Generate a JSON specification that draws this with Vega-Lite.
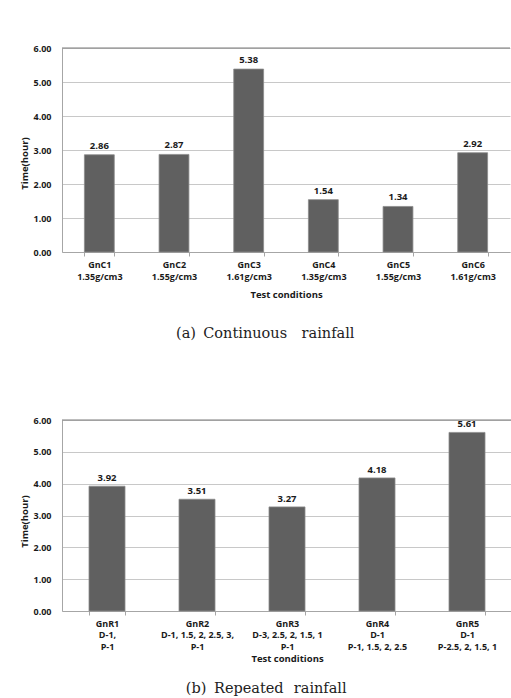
{
  "$schema": "https://vega.github.io/schema/vega-lite/v6.json",
  "padding": {"top": 44, "left": 19, "right": 0, "bottom": 0},
  "background": "white",
  "spacing": 75,
  "config": {
    "font": "Open Sans",
    "view": {"stroke": null},
    "axis": {
      "labelFont": "Open Sans", "labelFontWeight": "bold", "labelFontSize": 9, "labelColor": "#1a1a1a",
      "titleFont": "Open Sans", "titleFontWeight": "bold", "titleFontSize": 9.5, "titleColor": "#1a1a1a",
      "domainColor": "#a6a6a6", "tickColor": "#a6a6a6", "gridColor": "#c8c8c8", "gridWidth": 1
    },
    "axisY": {"labelOverlap": false, "tickCount": 7, "values": [0, 1, 2, 3, 4, 5, 6]},
    "title": {"font": "DejaVu Serif", "fontSize": 14.5, "fontWeight": "normal", "color": "#222222"}
  },
  "datasets": {
    "cont": [
      {"cond": "GnC1|1.35g/cm3", "time": 2.86},
      {"cond": "GnC2|1.55g/cm3", "time": 2.87},
      {"cond": "GnC3|1.61g/cm3", "time": 5.38},
      {"cond": "GnC4|1.35g/cm3", "time": 1.54},
      {"cond": "GnC5|1.55g/cm3", "time": 1.34},
      {"cond": "GnC6|1.61g/cm3", "time": 2.92}
    ],
    "rep": [
      {"cond": "GnR1|D-1,|P-1", "time": 3.92},
      {"cond": "GnR2|D-1, 1.5, 2, 2.5, 3,|P-1", "time": 3.51},
      {"cond": "GnR3|D-3, 2.5, 2, 1.5, 1|P-1", "time": 3.27},
      {"cond": "GnR4|D-1|P-1, 1.5, 2, 2.5", "time": 4.18},
      {"cond": "GnR5|D-1|P-2.5, 2, 1.5, 1", "time": 5.61}
    ]
  },
  "vconcat": [
    {
      "width": 448, "height": 204,
      "data": {"name": "cont"},
      "title": {"text": "(a)\u2002Continuous\u2003rainfall", "orient": "bottom", "offset": 28, "frame": "bounds", "anchor": "middle", "dx": 0},
      "layer": [
        {
          "mark": {"type": "bar", "color": "#606060", "stroke": "#8c8c8c", "strokeWidth": 0.8},
          "encoding": {
            "x": {"field": "cond", "type": "nominal", "sort": null,
              "scale": {"paddingInner": 0.6, "paddingOuter": 0.3},
              "axis": {"labelAngle": 0, "labelExpr": "split(datum.label, '|')", "labelLineHeight": 12.5, "labelPadding": 4,
                "ticks": true, "tickBand": "extent", "tickSize": 4, "title": "Test conditions", "titlePadding": 8, "grid": false}},
            "y": {"field": "time", "type": "quantitative", "scale": {"domain": [0, 6], "nice": false},
              "axis": {"values": [0, 1, 2, 3, 4, 5, 6], "tickCount": 7, "format": ".2f", "grid": true, "ticks": false, "labelPadding": 11, "labelOverlap": false,
                "title": "Time(hour)", "titleY": 115, "titlePadding": 3}}
          }
        },
        {
          "mark": {"type": "text", "baseline": "bottom", "dy": -4, "fontWeight": "bold", "fontSize": 9.5, "font": "Open Sans", "color": "#1a1a1a"},
          "encoding": {
            "x": {"field": "cond", "type": "nominal", "sort": null},
            "y": {"field": "time", "type": "quantitative"},
            "text": {"field": "time", "type": "quantitative", "format": ".2f"}
          }
        },
        {
          "data": {"values": [{}]},
          "mark": {"type": "rule", "color": "#7a7a7a", "strokeWidth": 1},
          "encoding": {"y": {"datum": 6, "type": "quantitative"}}
        }
      ]
    },
    {
      "width": 450, "height": 191,
      "data": {"name": "rep"},
      "title": {"text": "(b) \u2009Repeated\u2002\u2009rainfall", "orient": "bottom", "offset": 19, "frame": "bounds", "anchor": "middle", "dx": 0},
      "layer": [
        {
          "mark": {"type": "bar", "color": "#606060", "stroke": "#8c8c8c", "strokeWidth": 0.8},
          "encoding": {
            "x": {"field": "cond", "type": "nominal", "sort": null,
              "scale": {"paddingInner": 0.6, "paddingOuter": 0.3},
              "axis": {"labelAngle": 0, "labelExpr": "split(datum.label, '|')", "labelLineHeight": 11.7, "labelPadding": 4,
                "ticks": true, "tickBand": "extent", "tickSize": 4, "title": "Test conditions", "titlePadding": 2, "grid": false}},
            "y": {"field": "time", "type": "quantitative", "scale": {"domain": [0, 6], "nice": false},
              "axis": {"values": [0, 1, 2, 3, 4, 5, 6], "tickCount": 7, "format": ".2f", "grid": true, "ticks": false, "labelPadding": 11, "labelOverlap": false,
                "title": "Time(hour)", "titleY": 101, "titlePadding": 3}}
          }
        },
        {
          "mark": {"type": "text", "baseline": "bottom", "dy": -3, "fontWeight": "bold", "fontSize": 9.5, "font": "Open Sans", "color": "#1a1a1a"},
          "encoding": {
            "x": {"field": "cond", "type": "nominal", "sort": null},
            "y": {"field": "time", "type": "quantitative"},
            "text": {"field": "time", "type": "quantitative", "format": ".2f"}
          }
        },
        {
          "data": {"values": [{}]},
          "mark": {"type": "rule", "color": "#7a7a7a", "strokeWidth": 1},
          "encoding": {"y": {"datum": 6, "type": "quantitative"}}
        }
      ]
    }
  ]
}
